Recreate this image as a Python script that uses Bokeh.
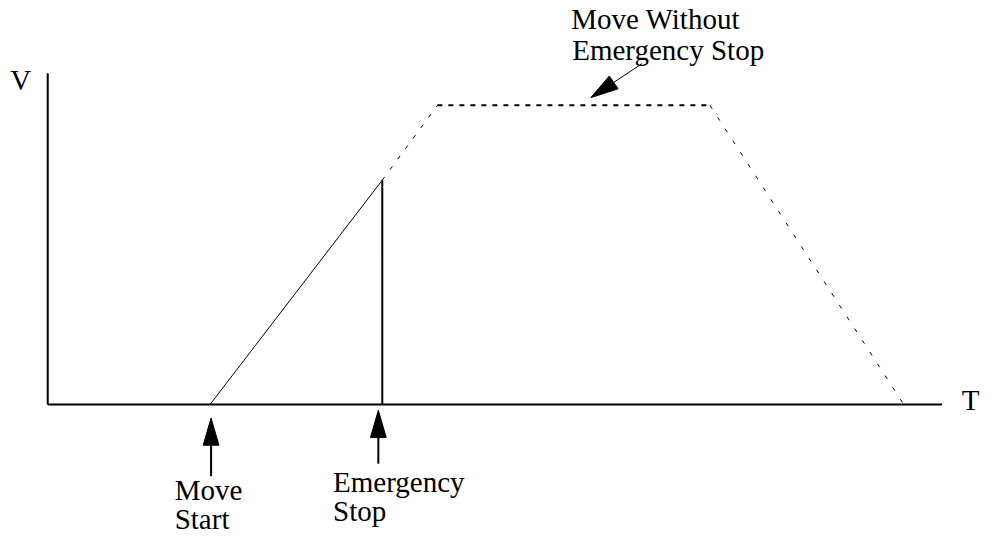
import numpy as np
from bokeh.plotting import figure
from bokeh.models import Range1d
from bokeh.core.properties import value
from bokeh.embed import file_html
from bokeh.resources import INLINE

# ---- data (time units, velocity units) ----
axis_t_end = 90.9
axis_v_end = 34.1

t_move_start = 16.5
t_emergency = 34.0
v_at_emergency = 23.1

# actual move (solid) until the emergency stop
t_actual = [t_move_start, t_emergency]
v_actual = [0.0, v_at_emergency]

# planned move without emergency stop
t_planned = [t_emergency, 39.6, 67.3, 87.0]
v_planned = [v_at_emergency, 30.8, 30.8, 0.0]

# labels
axis_labels = ["V", "T"]
axis_label_t = [-3.8, 92.9]
axis_label_v = [32.3, -0.6]

note_lines = ["Move Without", "Emergency Stop"]
note_t = [53.2, 53.3]
note_v = [38.6, 35.4]

start_lines = ["Move", "Start"]
start_t = [12.9, 12.9]
start_v = [-9.9, -12.9]

stop_lines = ["Emergency", "Stop"]
stop_t = [29.0, 29.0]
stop_v = [-9.1, -12.1]

# arrows: (tail_t, tail_v, tip_t, tip_v, shaft width)
arrows = [
    (16.6, -7.4, 16.6, -1.4, 2),
    (33.6, -6.1, 33.6, -0.6, 2),
    (60.4, 35.1, 55.2, 31.6, 1),
]
head_len = 2.8
head_wid = 1.6
text_shift = 1.1  # baseline correction in v units

FONT = value("Liberation Serif")

p = figure(width=982, height=536, x_range=Range1d(-4.8, 95.0), y_range=Range1d(-13.6, 41.6),
           toolbar_location=None, output_backend="svg", min_border=0,
           x_axis_location=None, y_axis_location=None,
           outline_line_color=None, background_fill_color="white", border_fill_color="white")
p.grid.visible = False

# axes
p.line([0, axis_t_end], [0, 0], line_color="black", line_width=2)
p.line([0, 0], [0, axis_v_end], line_color="black", line_width=2)

# actual profile
p.line(t_actual, v_actual, line_color="black", line_width=1)
p.line([t_emergency, t_emergency], [0, v_at_emergency], line_color="black", line_width=2)

# planned profile
p.line(t_planned[0:2], v_planned[0:2], line_color="black", line_width=1, line_dash="4 9")
p.line(t_planned[1:3], v_planned[1:3], line_color="black", line_width=2, line_dash="5 6")
p.line(t_planned[2:4], v_planned[2:4], line_color="black", line_width=1, line_dash="4 10")

# arrows
xs, ys = [], []
for tt, tv, ht, hv, w in arrows:
    d = np.array([ht - tt, hv - tv])
    d = d / np.hypot(*d)
    n = np.array([-d[1], d[0]])
    tip = np.array([ht, hv])
    base = tip - d * head_len
    c1 = base + n * head_wid / 2
    c2 = base - n * head_wid / 2
    xs.append([tip[0], c1[0], c2[0]])
    ys.append([tip[1], c1[1], c2[1]])
    p.segment(x0=[tt], y0=[tv], x1=[base[0] + d[0] * 0.3], y1=[base[1] + d[1] * 0.3],
              line_color="black", line_width=w)
p.patches(xs, ys, fill_color="black", line_color="black", line_width=1)

# texts
for txt, tx, ty in [(axis_labels, axis_label_t, axis_label_v), (note_lines, note_t, note_v),
                    (start_lines, start_t, start_v), (stop_lines, stop_t, stop_v)]:
    p.text(x=tx, y=[v + text_shift for v in ty], text=txt, text_font=FONT, text_font_size="29px",
           text_color="black", text_align="left", text_baseline="alphabetic")

open("out.html", "w").write(file_html(p, INLINE))
